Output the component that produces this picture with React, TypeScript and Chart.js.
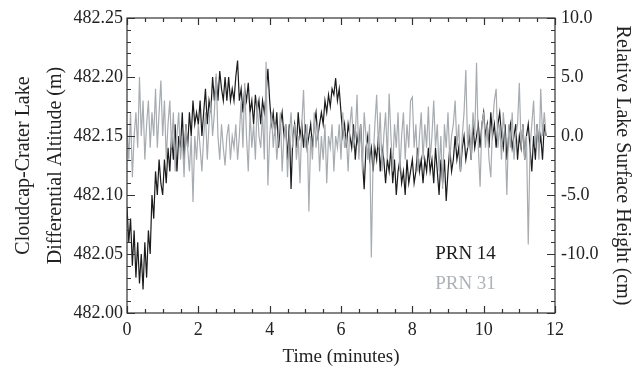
import React, { useEffect, useRef } from "react";
import { Chart, registerables } from "chart.js";

Chart.register(...registerables);

// Sample interval of the plotted series (minutes)
const SAMPLE_STEP_MIN = 0.05;

// PRN 14: relative lake surface height (cm), one value every 0.05 min from t = 0
const prn14Cm: number[] = [
  // 0 - 1 min
  -6, -9, -7, -11, -8, -12, -9, -12.5, -10, -13, -9, -12, -8, -10, -5, -7, -3, -5, -2, -4,
  // 1 - 2 min
  -5, -2, -4, -1, -3, 0, -2, 1, -3, 0, -1, 2, -2, 1, -1, 2, 0, 3, 1, 2,
  // 2 - 3 min
  1, 3, 0, 2, 4, 1, 3, 2, 5, 3, 5, 3, 5.5, 4, 3, 5, 3, 5, 3, 4,
  // 3 - 4 min
  3, 5, 6.4, 3, 4, 2, 4, 3, 4.5, 2, 3, 1, 3.5, 2, 3, 1, 3, 2, 3.5, 5.7,
  // 4 - 5 min
  3, 1, 2, 0, 2, -1, 1, 2, 0, 1, -2, 1, -4.5, 0, 1, -1, 2, 0, 1, -1,
  // 5 - 6 min
  1, -1, 0, 1, -1, 1, 2, 0, 1, 2, 1, 3, 2, 3.5, 2.5, 4, 3.5, 4.9, 3, 4,
  // 6 - 7 min
  2, 0, 1, -1, 1, 0, -1, 1, -2, 0, -1, 1, -2, -4.5, -1, 0, -2, -1, -3, -1,
  // 7 - 8 min
  -2, 0, -3, -1, -2, -4, -2, -3, -1, -4, -2, -5, -3, -2, -4, -3, -5, -2, -4, -3,
  // 8 - 9 min
  -2, -4, -3, -1, -3, -2, -4, -2, -3, -1, -3, -2, -4, -1, -3, -5, -2, -4, -2, -5.5,
  // 9 - 10 min
  -3, -1, -3, -2, 0, -2, -1, -3, -1, 0, -2, -1, 0, -2, 1, -1, 0, 1, -1, 1,
  // 10 - 11 min
  2, 0, 1, -1, 2, 0, 1, -1, 1, 2, 0, -1, 1, -2, 0, 1, -1, 0, 1, -2,
  // 11 - 11.75 min
  0, -1, 1, -2, 0, 1, -1, -3, 0, -2, 1, -1, 0, -2, 1, 0,
];

// PRN 31: relative lake surface height (cm), one value every 0.05 min from t = 0
const prn31Cm: number[] = [
  // 0 - 1 min
  1, -2, 2, -3.5, 0, 2, -1, 5, 0, 3, -2, 1, 3, -1, 2, 0, 4, -1, 2, 4.7,
  // 1 - 2 min
  0, 3, -2, 1, 3, -1, 2, -3, 0, 2, -2, 0, -3.5, 1, -1, -3, 0, -5.6, 0, -2,
  // 2 - 3 min
  1, -1, -3, 0, 2, -2, 1, 3, 0, 2, 5.3, 0, -2, 1, -1, -2.5, 0, 1, -2, 0,
  // 3 - 4 min
  -1, 1, -2, 0, 3, -1, 4.5, 0, -3, 2, -1, 1, -2, 3, 0, -1, 2, -2, 6.3, -4.2,
  // 4 - 5 min
  0, 2, -1, 1, -2, 0, 2, -3, 0, 1, -3.5, 0, 2, -1, 1, -2, 0, -4, 1, 3.9,
  // 5 - 6 min
  -1, 1, -6.4, 0, -2, 2, -1, 1, -3, 0, -2, 1, -4, 0, -1, 1, -3, 0, -1, 1,
  // 6 - 7 min
  -2, 2, -1, 0, -3, 1, 2.5, -1, 0, 3.5, -2, 1, -3, 2, 0, -2, 1, -10.3, -2, 1,
  // 7 - 8 min
  3.5, -1, 2, -3, 0, 2, -2, 3.6, 0, -3, 1, -1, 2, -3, 0, 2, -2, 1, -1, 3,
  // 8 - 9 min
  3.3, -1, 1, -3, 0, 2, -2, 1, -1, 2.5, -2, 0, 3, -1, 1, -3, 0, -4.5, 1, -1,
  // 9 - 10 min
  2, -2, 0, 1, 3, -1, 1, -3, 0, 2, 5.6, -1, 1, -2, 2, 0, 6.2, -1, -4.3, 1,
  // 10 - 11 min
  2, -1, 1, -2, -3.5, 1, 3, 4, -1, 1, -2, 2, 0, -5, 1, -1, 2, -2, 0, 1,
  // 11 - 11.75 min
  4.5, -1, 1, -2, 0, -9.2, -1, 1, 3, -1, 1, -2, 4, 0, 2, 0,
];

const seriesLabels = ["PRN 14", "PRN 31"];
const seriesColors = ["#1b1b1b", "#a7acb1"];
const legendTextColors = ["#1b1b1b", "#aeb2b7"];

// Axis ranges and tick steps
const xRange = [0, 12];
const xMajorStep = 2;
const xMinorStep = 0.5;
const leftRange = [482.0, 482.25];
const leftMajorStep = 0.05;
const rightRange = [-15, 10];
const rightMajorStep = 5;
const rightMinorStep = 1;

const xTitle = "Time (minutes)";
const leftTitle = ["Cloudcap-Crater Lake", "Differential Altitude (m)"];
const rightTitle = "Relative Lake Surface Height (cm)";

const FONT = "'Liberation Serif', 'Times New Roman', serif";
const AXIS_COLOR = "#333333";
const TEXT_COLOR = "#222222";

const toPoints = (vals: number[]) =>
  vals.map((v, i) => ({ x: +(i * SAMPLE_STEP_MIN).toFixed(2), y: v }));

const framePlugin = {
  id: "frameTicks",
  afterDatasetsDraw(chart: any) {
    const { ctx, chartArea, scales } = chart;
    const { left, right, top, bottom } = chartArea;
    ctx.save();
    ctx.strokeStyle = AXIS_COLOR;
    ctx.lineWidth = 1.2;
    ctx.strokeRect(left, top, right - left, bottom - top);
    ctx.beginPath();
    const xs = scales.x;
    const nX = Math.round((xRange[1] - xRange[0]) / xMinorStep);
    for (let i = 0; i <= nX; i++) {
      const v = xRange[0] + i * xMinorStep;
      const px = Math.round(xs.getPixelForValue(v)) + 0.5;
      const major = Math.abs(v / xMajorStep - Math.round(v / xMajorStep)) < 1e-6;
      const len = major ? 7 : 4;
      ctx.moveTo(px, bottom);
      ctx.lineTo(px, bottom - len);
      ctx.moveTo(px, top);
      ctx.lineTo(px, top + len);
    }
    const ys = scales.yR;
    const nY = Math.round((rightRange[1] - rightRange[0]) / rightMinorStep);
    for (let i = 0; i <= nY; i++) {
      const v = rightRange[0] + i * rightMinorStep;
      const py = Math.round(ys.getPixelForValue(v)) + 0.5;
      const major = Math.abs(v / rightMajorStep - Math.round(v / rightMajorStep)) < 1e-6;
      const len = major ? 8 : 4;
      ctx.moveTo(left, py);
      ctx.lineTo(left + len, py);
      ctx.moveTo(right, py);
      ctx.lineTo(right - len, py);
    }
    ctx.stroke();

    // legend text
    ctx.font = `19px ${FONT}`;
    ctx.textBaseline = "middle";
    ctx.textAlign = "left";
    const lx = left + (right - left) * 0.72;
    seriesLabels.forEach((lab, i) => {
      ctx.fillStyle = legendTextColors[i];
      ctx.fillText(lab, lx, top + (bottom - top) * 0.8 + i * 30);
    });
    ctx.restore();
  },
};

export default function App() {
  const canvasRef = useRef<HTMLCanvasElement | null>(null);

  useEffect(() => {
    if (!canvasRef.current) return;
    const chart = new Chart(canvasRef.current, {
      type: "line",
      data: {
        datasets: [
          {
            label: seriesLabels[0],
            data: toPoints(prn14Cm),
            borderColor: seriesColors[0],
            borderWidth: 1.2,
            pointRadius: 0,
            tension: 0,
            yAxisID: "yR",
            xAxisID: "x",
            order: 1,
          },
          {
            label: seriesLabels[1],
            data: toPoints(prn31Cm),
            borderColor: seriesColors[1],
            borderWidth: 1.2,
            pointRadius: 0,
            tension: 0,
            yAxisID: "yR",
            xAxisID: "x",
            order: 0,
          },
        ],
      },
      options: {
        animation: false,
        responsive: true,
        maintainAspectRatio: false,
        layout: { padding: { top: 18, left: 0, right: 0, bottom: 0 } },
        plugins: { legend: { display: false }, tooltip: { enabled: false } },
        events: [],
        scales: {
          x: {
            type: "linear",
            position: "bottom",
            min: xRange[0],
            max: xRange[1],
            grid: { display: false, drawTicks: false },
            border: { display: false },
            ticks: {
              stepSize: xMajorStep,
              autoSkip: false,
              maxRotation: 0,
              padding: 6,
              color: TEXT_COLOR,
              font: { family: FONT, size: 18 },
            },
            title: {
              display: true,
              text: xTitle,
              color: TEXT_COLOR,
              font: { family: FONT, size: 19, lineHeight: 1.2 },
              padding: { top: 0, bottom: 0 },
            },
            afterFit: (s: any) => {
              s.height = 55;
            },
          },
          yL: {
            type: "linear",
            position: "left",
            min: leftRange[0],
            max: leftRange[1],
            grid: { display: false, drawTicks: false },
            border: { display: false },
            ticks: {
              stepSize: leftMajorStep,
              autoSkip: false,
              padding: 4,
              color: TEXT_COLOR,
              font: { family: FONT, size: 18 },
              callback: (v: any) => Number(v).toFixed(2),
            },
            title: {
              display: true,
              text: leftTitle,
              color: TEXT_COLOR,
              font: { family: FONT, size: 20, lineHeight: 1.6 },
              padding: { top: 8, bottom: 0 },
            },
            afterFit: (s: any) => {
              s.width = 127;
            },
          },
          yR: {
            type: "linear",
            position: "right",
            min: rightRange[0],
            max: rightRange[1],
            grid: { display: false, drawTicks: false },
            border: { display: false },
            ticks: {
              stepSize: rightMajorStep,
              autoSkip: false,
              padding: 6,
              color: TEXT_COLOR,
              font: { family: FONT, size: 18 },
              callback: (v: any) => (Number(v) <= rightRange[0] ? "" : Number(v).toFixed(1)),
            },
            title: {
              display: true,
              text: rightTitle,
              color: TEXT_COLOR,
              font: { family: FONT, size: 20, lineHeight: 1.2 },
              padding: { top: 7, bottom: 0 },
            },
            afterFit: (s: any) => {
              s.width = 86;
            },
          },
        },
      },
      plugins: [framePlugin],
    });
    return () => chart.destroy();
  }, []);

  return (
    <div
      style={{
        position: "fixed",
        left: 0,
        top: 0,
        width: 641,
        height: 368,
        background: "#ffffff",
      }}
    >
      <canvas ref={canvasRef} />
    </div>
  );
}
